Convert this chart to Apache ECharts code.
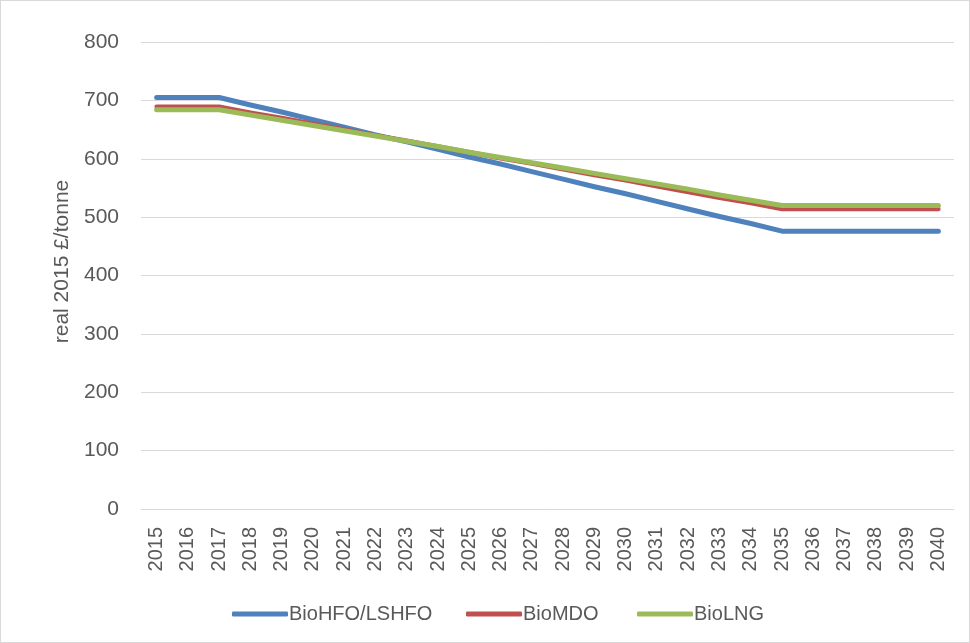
<!DOCTYPE html>
<html>
<head>
<meta charset="utf-8">
<script src="https://cdn.jsdelivr.net/npm/echarts@6/dist/echarts.min.js"></script>
<style>
html,body{margin:0;padding:0;background:#fff;}
#chart{width:968px;height:641px;border:1px solid #D9D9D9;}
</style>
</head>
<body>
<div id="chart"></div>
<script>
const years = ['2015','2016','2017','2018','2019','2020','2021','2022','2023','2024','2025','2026','2027','2028','2029','2030','2031','2032','2033','2034','2035','2036','2037','2038','2039','2040'];
const bioHFO = [705,705,705,692,680,667,654,641,629,616,603,591,578,565,552,540,527,514,501,489,476,476,476,476,476,476];
const bioMDO = [689,689,689,679,670,660,650,640,631,621,611,601,592,582,572,563,553,543,533,524,514,514,514,514,514,514];
const bioLNG = [684,684,684,675,666,657,648,639,630,621,611,602,593,584,575,566,557,548,538,529,520,520,520,520,520,520];
const yTicks = {min:0, max:800, interval:100};
const seriesNames = ['BioHFO/LSHFO','BioMDO','BioLNG'];
const colors = ['#4F81BD','#C0504D','#9BBB59'];

const chart = echarts.init(document.getElementById('chart'));
const font = 'Liberation Sans, Arial, sans-serif';
const mk = (name, data, color, w) => ({
  name, type:'line', data, showSymbol:false, symbol:'none',
  lineStyle:{color, width:w, cap:'round', join:'round'},
  itemStyle:{color}, animation:false
});
const legendLefts = [226, 460, 631];
chart.setOption({
  animation:false,
  grid:{left:140, right:15, top:41, bottom:133},
  legend: seriesNames.map((n, i) => ({
    top:598, left:legendLefts[i], itemWidth:56, itemHeight:5,
    icon:'roundRect',
    textStyle:{fontFamily:font, fontSize:20, color:'#595959', padding:[0,0,0,-4]},
    data:[n]
  })),
  xAxis:{
    type:'category', data:years, boundaryGap:true,
    axisLine:{show:true, lineStyle:{color:'#D9D9D9', width:1}},
    axisTick:{show:false},
    axisLabel:{rotate:90, fontFamily:font, fontSize:20, color:'#595959', margin:18, interval:0}
  },
  yAxis:{
    type:'value', min:yTicks.min, max:yTicks.max, interval:yTicks.interval,
    name:'real 2015 £/tonne', nameLocation:'middle', nameGap:68,
    nameTextStyle:{fontFamily:font, fontSize:21, color:'#595959', padding:[0,0,0,28]},
    axisLine:{show:false}, axisTick:{show:false},
    axisLabel:{fontFamily:font, fontSize:21, color:'#595959', margin:22},
    splitLine:{lineStyle:{color:'#D9D9D9', width:1}}
  },
  series:[
    mk(seriesNames[0], bioHFO, colors[0], 5),
    mk(seriesNames[1], bioMDO, colors[1], 4.5),
    mk(seriesNames[2], bioLNG, colors[2], 5)
  ]
});
</script>
</body>
</html>
